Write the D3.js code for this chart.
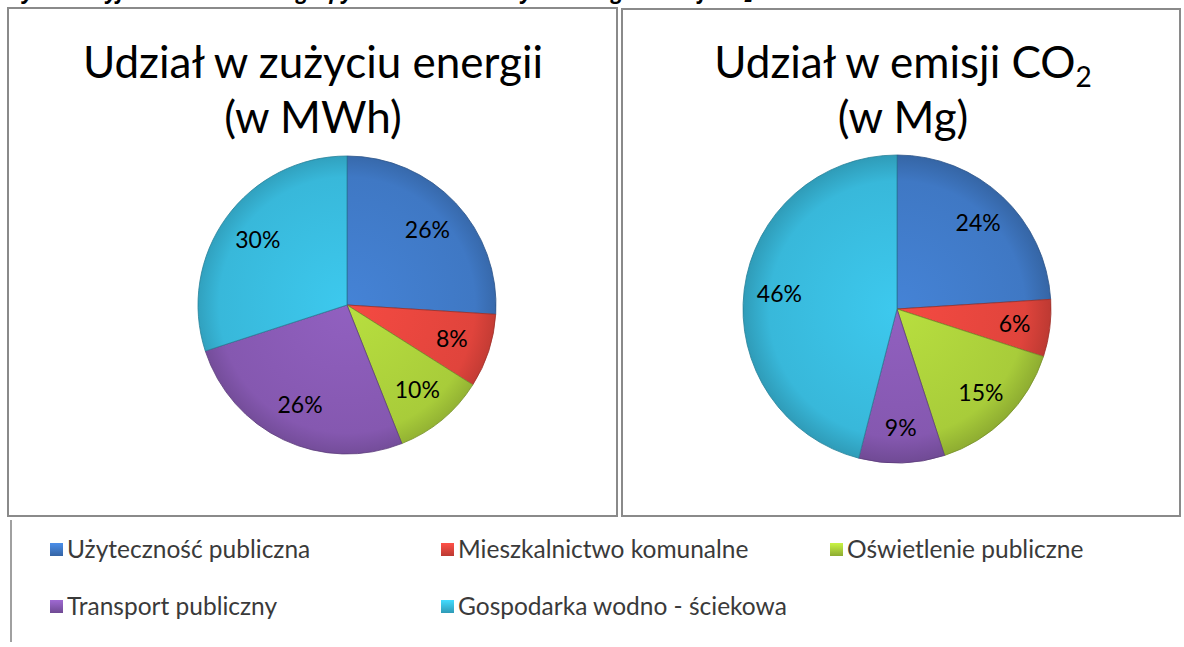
<!DOCTYPE html>
<head>
    <meta charset="utf-8">
    <title>Udział w zużyciu energii i emisji CO2</title>
    <style>
        body { margin: 0; background: #fff; }
        text { font-family: Lato, "Open Sans", sans-serif; }
    </style>
</head>
<body>
    <svg width="1184" height="647"></svg>

    <script src="https://d3js.org/d3.v7.min.js"></script>
    <script>

        // data
        var categories = ["Użyteczność publiczna", "Mieszkalnictwo komunalne", "Oświetlenie publiczne",
            "Transport publiczny", "Gospodarka wodno - ściekowa"];
        var energyShare = [26, 8, 10, 26, 30];   // % MWh
        var co2Share = [24, 6, 15, 9, 46];       // % Mg
        var colors = ["#3f78c4", "#e0443c", "#a8cc3a", "#8558b0", "#38b8da"];

        var svg = d3.select("svg");

        var color = d3.scaleOrdinal().domain(categories).range(colors);

        // gradients for the glossy look
        var defs = svg.append("defs");
        categories.forEach(function (c, i) {
            var base = d3.color(colors[i]);
            var gr = defs.append("radialGradient")
                .attr("id", "grad" + i)
                .attr("gradientUnits", "userSpaceOnUse")
                .attr("r", 160).attr("cx", 0).attr("cy", 0);
            gr.append("stop").attr("offset", "0%").attr("stop-color", base.brighter(0.25));
            gr.append("stop").attr("offset", "80%").attr("stop-color", base);
            gr.append("stop").attr("offset", "100%").attr("stop-color", base.darker(0.6));
            var lg = defs.append("linearGradient")
                .attr("id", "leg" + i).attr("x1", 0).attr("y1", 0).attr("x2", 0).attr("y2", 1);
            lg.append("stop").attr("offset", "0%").attr("stop-color", base.brighter(0.5));
            lg.append("stop").attr("offset", "100%").attr("stop-color", base.darker(0.5));
        });

        // caption cut off at the very top (only descenders show in the reference)
        svg.append("text")
            .attr("x", 4).attr("y", -1)
            .style("font-family", "'Open Sans', sans-serif")
            .style("font-weight", "bold").style("font-style", "italic")
            .style("font-size", "21px")
            .text("Wykres: Wyjściowa struktura grupy odbiorców w zużyciu energii i emisji CO₂");

        // panel boxes
        svg.append("rect").attr("x", 8).attr("y", 8).attr("width", 609).attr("height", 508)
            .attr("fill", "#fff").attr("stroke", "#8a8a8a").attr("stroke-width", 2);
        svg.append("rect").attr("x", 622).attr("y", 9).attr("width", 558).attr("height", 507)
            .attr("fill", "#fff").attr("stroke", "#8a8a8a").attr("stroke-width", 2);

        // titles
        function title(x, lines) {
            var t = svg.append("text")
                .attr("text-anchor", "middle")
                .style("font-size", "44px")
                .attr("fill", "#000");
            lines.forEach(function (l, i) {
                var ts = t.append("tspan").attr("x", x).attr("y", 78 + i * 55);
                if (Array.isArray(l)) {
                    ts.text(l[0]);
                    ts.append("tspan").attr("dy", 9).style("font-size", "28px").text(l[1]);
                } else {
                    ts.text(l);
                }
            });
        }
        title(313, ["Udział w zużyciu energii", "(w MWh)"]);
        title(903, [["Udział w emisji CO", "2"], "(w Mg)"]);

        var pie = d3.pie().sort(null).value(function (d) { return d; });

        function drawPie(values, cx, cy, r, labelR) {
            var g = svg.append("g").attr("transform", "translate(" + cx + "," + cy + ")");
            var arc = d3.arc().innerRadius(0).outerRadius(r);
            var labelArc = d3.arc().innerRadius(r * labelR).outerRadius(r * labelR);
            var arcs = pie(values);

            g.selectAll("path")
                .data(arcs)
                .enter().append("path")
                .attr("d", arc)
                .attr("fill", function (d, i) { return "url(#grad" + i + ")"; })
                .attr("stroke", function (d, i) { return d3.color(color(categories[i])).darker(1); })
                .attr("stroke-width", 0.8);

            g.selectAll("text")
                .data(arcs)
                .enter().append("text")
                .attr("transform", function (d) { return "translate(" + labelArc.centroid(d) + ")"; })
                .attr("text-anchor", "middle")
                .attr("dy", "0.35em")
                .style("font-size", "23px")
                .attr("fill", "#000")
                .text(function (d) { return d.data + "%"; });
        }

        drawPie(energyShare, 347, 305, 149, 0.74);
        drawPie(co2Share, 897, 309, 154, 0.77);

        // legend
        svg.append("line").attr("x1", 11).attr("x2", 11).attr("y1", 520).attr("y2", 642)
            .attr("stroke", "#a0a0a0").attr("stroke-width", 2);

        var legendX = [50, 441, 830, 50, 441];
        var legendY = [549, 549, 549, 606, 606];
        var leg = svg.selectAll(".legend")
            .data(categories)
            .enter().append("g")
            .attr("class", "legend")
            .attr("transform", function (d, i) { return "translate(" + legendX[i] + "," + legendY[i] + ")"; });

        leg.append("rect")
            .attr("x", 0).attr("y", -6).attr("width", 13).attr("height", 13)
            .attr("fill", function (d, i) { return "url(#leg" + i + ")"; });

        leg.append("text")
            .attr("x", 17).attr("dy", "0.35em")
            .style("font-size", "24.5px")
            .attr("fill", "#3a3a3a")
            .text(function (d) { return d; });

    </script>
</body>
